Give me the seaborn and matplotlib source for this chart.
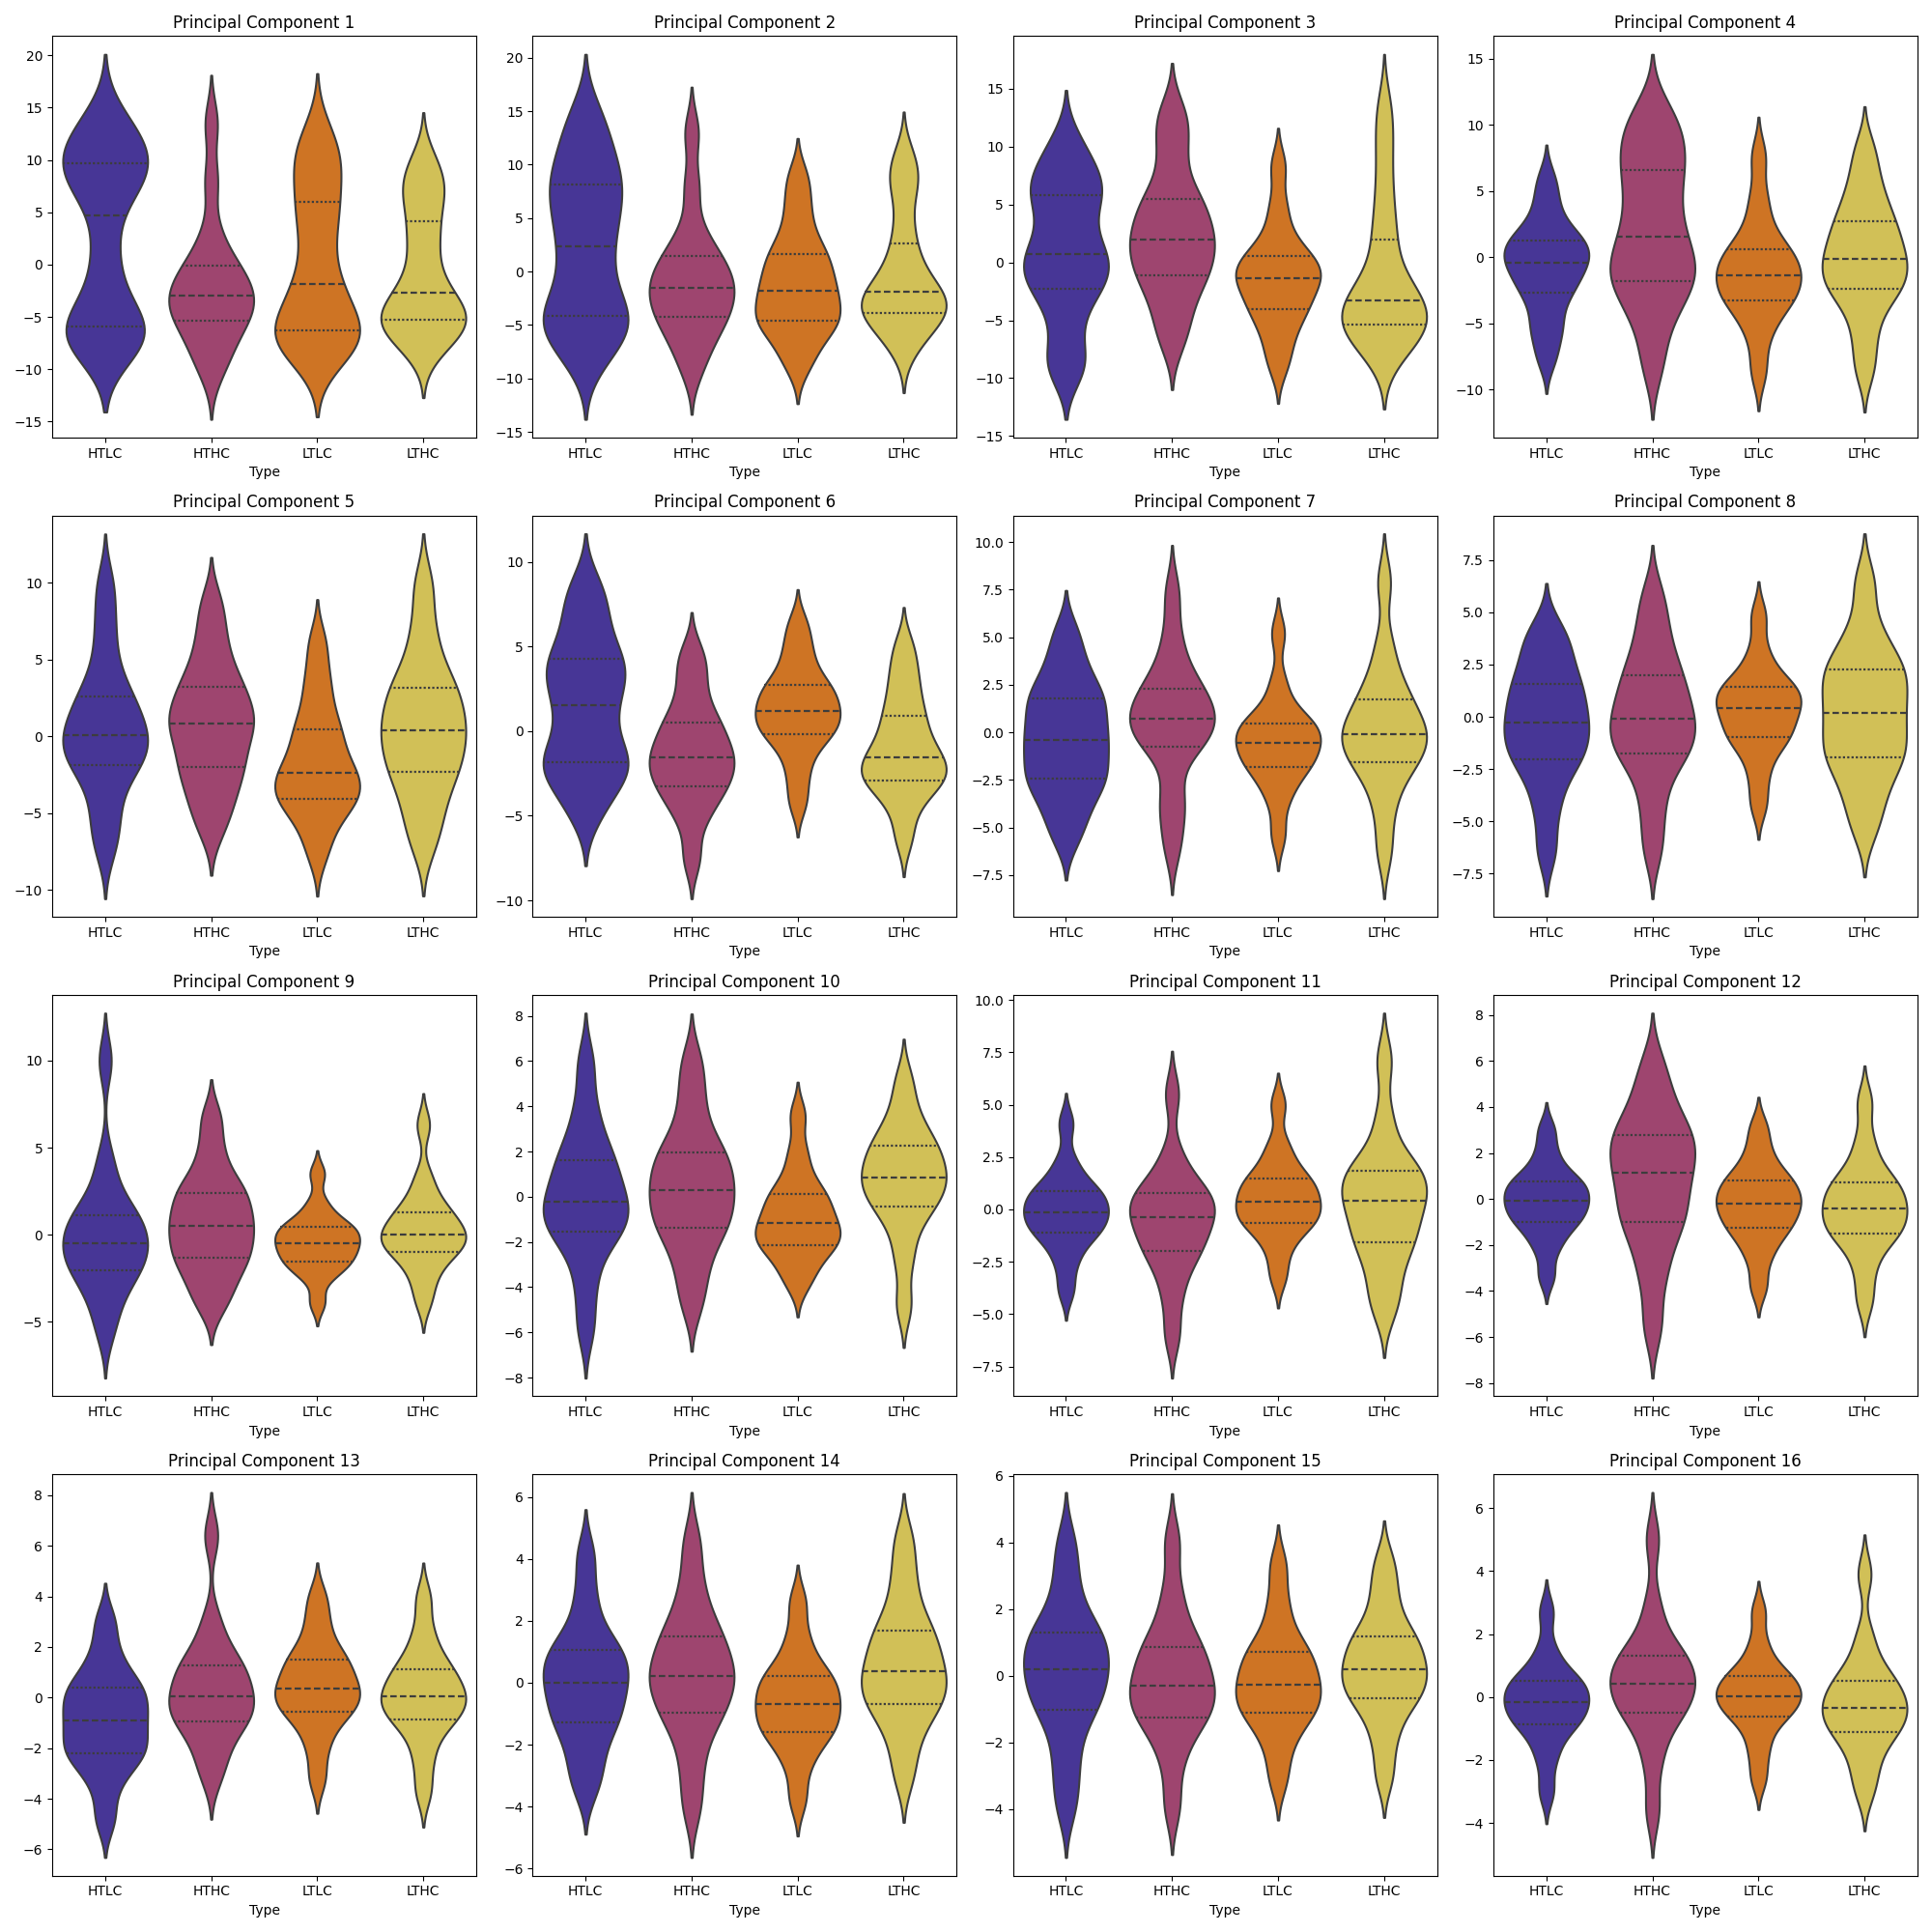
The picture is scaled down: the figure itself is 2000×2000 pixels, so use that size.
import pandas as pd
import matplotlib.pyplot as plt
import seaborn as sns

tipos = ['HTLC', 'HTHC', 'LTLC', 'LTHC']

# amostras, uma lista por componente principal (PC1..PC16)
htlc = [
    [-7.9, -7.3, -6.9, -6.5, -5.7, -4, -1, 2.5, 6.9, 7.5, 9, 9.6, 10, 11.5, 12.5, 13.9],
    [-8.3, -6.5, -5.3, -4.5, -4, -2.5, -0.5, 1.5, 3.3, 5, 6.5, 7.8, 9, 10.5, 12.5, 14.8],
    [-9.1, -8.6, -5.5, -3, -2.1, -1.2, -0.3, 0.5, 1.0, 2.5, 4.5, 5.6, 6.4, 7.3, 8.5, 10.4],
    [-7.6, -5.8, -4.8, -3.2, -2.5, -1.8, -1.1, -0.6, -0.15, 0.3, 0.8, 1.2, 1.6, 2.5, 4, 5.8],
    [-7.2, -5.5, -3.8, -2.2, -1.8, -1.2, -0.6, -0.2, 0.3, 0.9, 1.8, 2.4, 3.2, 5, 7.3, 9.8],
    [-4.9, -3.5, -2.7, -2.0, -1.8, -1.2, 0, 1.0, 2.0, 2.8, 3.5, 4.1, 4.7, 6, 7.3, 8.6],
    [-5.5, -4.3, -3.4, -2.6, -2.4, -1.8, -1.1, -0.6, -0.15, 0.4, 1.1, 1.7, 2.0, 2.8, 3.8, 5.2],
    [-6.4, -4.5, -3.2, -2.2, -1.96, -1.4, -0.9, -0.5, -0.08, 0.4, 1.0, 1.45, 1.9, 2.7, 3.5, 4.2],
    [-5.5, -4, -3, -2.2, -1.97, -1.4, -1.0, -0.7, -0.28, 0.2, 0.7, 1.05, 1.4, 2.5, 4.2, 10.0],
    [-5.8, -4, -2.6, -1.65, -1.5, -1.1, -0.7, -0.4, 0.0, 0.4, 1.0, 1.55, 1.9, 2.8, 4.0, 5.9],
    [-3.85, -2.6, -1.8, -1.2, -1.1, -0.75, -0.45, -0.25, 0.0, 0.25, 0.55, 0.85, 0.95, 1.5, 2.3, 4.1],
    [-3.35, -2.2, -1.6, -1.08, -0.97, -0.65, -0.4, -0.2, 0.02, 0.25, 0.5, 0.75, 0.83, 1.3, 2.0, 3.0],
    [-4.8, -3.5, -2.7, -2.3, -2.17, -1.8, -1.4, -1.1, -0.7, -0.4, -0.1, 0.35, 0.47, 1.0, 1.8, 3.0],
    [-3.4, -2.7, -2.0, -1.35, -1.24, -0.8, -0.45, -0.15, 0.15, 0.4, 0.7, 1.0, 1.2, 1.8, 2.8, 4.1],
    [-3.9, -2.9, -2.0, -1.1, -1.0, -0.55, -0.2, 0.05, 0.33, 0.6, 0.95, 1.27, 1.35, 2.0, 2.9, 3.95],
    [-3.0, -2.0, -1.4, -0.92, -0.84, -0.6, -0.4, -0.25, -0.07, 0.1, 0.3, 0.5, 0.55, 0.9, 1.5, 2.7],
]

hthc = [
    [-10.2, -8.5, -7.2, -6, -5.1, -4.5, -4, -3.2, -2.8, -2, -1.2, -0.3, 0.5, 3, 8, 13.5],
    [-9.1, -7, -5.8, -4.5, -4.2, -3.2, -2.4, -1.7, -1.3, -0.5, 0.3, 1.3, 1.9, 4, 8, 13],
    [-6.8, -4.8, -3, -1.5, -1.0, 0, 1, 1.7, 2.3, 3.2, 4.3, 5.3, 6.1, 8.8, 11.2, 13.0],
    [-8.0, -5, -3.5, -2.0, -1.7, -0.9, 0, 1.0, 2.1, 3.5, 5, 6.3, 7.5, 8.5, 9.8, 11.1],
    [-6.0, -4.5, -3.5, -2.3, -1.9, -1, 0, 0.6, 1.0, 1.5, 2.3, 3.1, 3.7, 5, 6.6, 8.6],
    [-7.5, -5.3, -4.3, -3.5, -3.2, -2.6, -2.1, -1.75, -1.35, -0.9, -0.3, 0.4, 0.8, 2, 3.4, 4.6],
    [-6.0, -4.3, -3.2, -0.9, -0.74, -0.2, 0.3, 0.6, 0.85, 1.2, 1.7, 2.2, 2.6, 3.5, 5, 7.3],
    [-6.3, -4.5, -3, -1.9, -1.7, -1.2, -0.7, -0.3, 0.15, 0.6, 1.2, 1.9, 2.3, 3.3, 4.4, 5.8],
    [-4.1, -3.1, -2.3, -1.5, -1.29, -0.7, -0.1, 0.3, 0.72, 1.2, 1.8, 2.3, 2.75, 3.5, 4.9, 6.7],
    [-4.7, -3.4, -2.4, -1.5, -1.33, -0.8, -0.3, 0.1, 0.5, 0.9, 1.4, 1.9, 2.2, 3.2, 4.5, 5.95],
    [-6.0, -4.2, -3.0, -2.1, -1.97, -1.4, -0.9, -0.55, -0.23, 0.05, 0.4, 0.75, 0.88, 1.5, 2.6, 5.5],
    [-5.5, -3.5, -2.3, -1.2, -0.93, -0.3, 0.3, 0.9, 1.36, 1.8, 2.3, 2.75, 2.95, 3.7, 4.6, 5.8],
    [-3.1, -2.3, -1.6, -1.0, -0.92, -0.6, -0.3, -0.1, 0.2, 0.5, 0.9, 1.25, 1.37, 2.0, 3.0, 6.4],
    [-4.0, -2.8, -1.8, -1.1, -0.94, -0.5, -0.1, 0.1, 0.34, 0.6, 1.0, 1.45, 1.65, 2.3, 3.2, 4.5],
    [-3.9, -2.6, -1.8, -1.3, -1.22, -0.9, -0.6, -0.42, -0.18, 0.1, 0.45, 0.83, 0.95, 1.6, 2.5, 4.0],
    [-3.6, -2.1, -1.2, -0.55, -0.47, -0.15, 0.1, 0.3, 0.54, 0.75, 1.0, 1.28, 1.36, 1.9, 2.9, 5.0],
]

ltlc = [
    [-9.0, -8.0, -7.3, -6.8, -6.1, -5.5, -4, -2.5, -1.3, 1.5, 4, 5.5, 7.5, 9.5, 10.5, 12.7],
    [-8.7, -7, -5.5, -4.8, -4.55, -3.8, -2.8, -2.0, -1.5, -0.5, 0.5, 1.4, 2.2, 4, 6.3, 8.8],
    [-8.9, -7, -5.5, -4.3, -3.9, -3, -2.1, -1.6, -1.2, -0.7, -0.1, 0.4, 1.0, 2.5, 4.8, 8.3],
    [-8.6, -6, -4.5, -3.5, -3.2, -2.6, -2.0, -1.55, -1.15, -0.6, 0, 0.45, 1.05, 2.5, 4.5, 7.6],
    [-7.6, -6, -4.9, -4.3, -4.0, -3.5, -3.0, -2.6, -2.1, -1.5, -0.5, 0.3, 1.0, 2.5, 4, 6.1],
    [-4.2, -2.6, -1.3, -0.4, -0.15, 0.3, 0.7, 1.0, 1.35, 1.8, 2.3, 2.6, 3.0, 4, 5, 6.3],
    [-5.4, -3.6, -2.7, -1.95, -1.78, -1.4, -1.0, -0.75, -0.4, -0.1, 0.2, 0.4, 0.65, 1.3, 2.6, 5.2],
    [-4.2, -2.8, -1.7, -1.1, -0.95, -0.5, -0.1, 0.25, 0.55, 0.8, 1.1, 1.38, 1.55, 2.1, 3.1, 4.8],
    [-3.9, -2.5, -2.0, -1.6, -1.5, -1.1, -0.8, -0.6, -0.38, -0.1, 0.2, 0.4, 0.55, 1.0, 1.8, 3.5],
    [-3.85, -3.2, -2.6, -2.2, -2.1, -1.8, -1.55, -1.3, -1.05, -0.7, -0.3, 0.05, 0.25, 1.0, 2.0, 3.6],
    [-3.2, -2.0, -1.2, -0.7, -0.63, -0.3, 0.0, 0.2, 0.52, 0.8, 1.1, 1.45, 1.57, 2.3, 3.1, 5.0],
    [-3.8, -2.6, -1.9, -1.35, -1.22, -0.85, -0.5, -0.3, -0.1, 0.15, 0.45, 0.77, 0.9, 1.4, 2.1, 3.1],
    [-3.2, -2.0, -1.2, -0.6, -0.55, -0.2, 0.05, 0.25, 0.45, 0.75, 1.1, 1.47, 1.6, 2.2, 3.0, 3.95],
    [-3.75, -2.7, -2.1, -1.65, -1.57, -1.3, -1.0, -0.82, -0.58, -0.35, -0.1, 0.2, 0.28, 0.8, 1.5, 2.6],
    [-3.1, -2.2, -1.6, -1.17, -1.09, -0.8, -0.55, -0.38, -0.14, 0.1, 0.4, 0.7, 0.82, 1.4, 2.2, 3.3],
    [-2.6, -1.8, -1.2, -0.66, -0.6, -0.35, -0.15, -0.03, 0.09, 0.25, 0.45, 0.64, 0.72, 1.1, 1.7, 2.7],
]

lthc = [
    [-8.2, -7.0, -6.3, -5.6, -5.2, -4.8, -4.2, -3.3, -2.1, -0.5, 2, 3.5, 5.9, 7, 8.3, 10.0],
    [-7.2, -5.8, -4.8, -4.0, -3.8, -3.4, -2.8, -2.1, -1.7, -1, 0.5, 2, 4.4, 7.5, 9, 10.8],
    [-7.9, -7.0, -6.3, -5.5, -5.3, -4.7, -4.2, -3.6, -3.0, -2.2, -1, 1.5, 3.5, 6.5, 10, 13.2],
    [-8.4, -6, -4, -2.7, -2.3, -1.6, -1.0, -0.4, 0.2, 0.9, 1.7, 2.5, 3.3, 4.5, 6, 8.1],
    [-7.0, -5.3, -4, -2.6, -2.2, -1.3, -0.5, 0.1, 0.7, 1.4, 2.2, 3.0, 3.6, 5, 7, 9.8],
    [-6.3, -4.6, -3.6, -3.0, -2.87, -2.5, -2.1, -1.75, -1.35, -0.8, -0.1, 0.7, 1.4, 2.5, 3.6, 5.0],
    [-6.2, -4.1, -2.7, -1.7, -1.53, -1.0, -0.5, -0.2, 0.05, 0.4, 0.9, 1.6, 2.1, 3, 4.6, 7.9],
    [-5.3, -4, -3, -2.1, -1.86, -1.3, -0.7, -0.1, 0.45, 1.0, 1.6, 2.2, 2.4, 3.2, 4.3, 6.4],
    [-3.8, -2.6, -1.8, -1.1, -0.94, -0.6, -0.3, -0.1, 0.1, 0.4, 0.8, 1.2, 1.5, 2.2, 3.3, 6.3],
    [-4.8, -2.8, -1.5, -0.55, -0.4, 0.1, 0.5, 0.75, 0.97, 1.3, 1.8, 2.2, 2.35, 3.0, 3.8, 5.1],
    [-4.8, -3.8, -2.7, -1.7, -1.53, -0.9, -0.3, 0.2, 0.6, 0.9, 1.3, 1.8, 1.96, 2.6, 4.3, 7.1],
    [-4.4, -3.1, -2.1, -1.6, -1.47, -1.1, -0.8, -0.55, -0.29, 0.0, 0.35, 0.68, 0.8, 1.5, 2.5, 4.2],
    [-3.7, -2.5, -1.6, -0.95, -0.84, -0.5, -0.25, -0.05, 0.13, 0.35, 0.7, 1.07, 1.2, 1.8, 2.6, 3.9],
    [-3.0, -2.0, -1.3, -0.75, -0.68, -0.3, 0.0, 0.2, 0.52, 0.85, 1.2, 1.62, 1.85, 2.6, 3.5, 4.6],
    [-3.0, -2.0, -1.3, -0.75, -0.66, -0.35, -0.1, 0.08, 0.3, 0.55, 0.85, 1.15, 1.27, 1.9, 2.6, 3.4],
    [-3.0, -2.3, -1.7, -1.2, -1.1, -0.8, -0.6, -0.45, -0.25, -0.05, 0.2, 0.48, 0.6, 1.1, 1.9, 3.9],
]

amostras = {'HTLC': htlc, 'HTHC': hthc, 'LTLC': ltlc, 'LTHC': lthc}

linhas = []
for tipo in tipos:
    for pc, valores in enumerate(amostras[tipo], start=1):
        for v in valores:
            linhas.append({'Type': tipo, 'PC': pc, 'valor': v})
dados = pd.DataFrame(linhas)

fig, axes = plt.subplots(4, 4, figsize=(20, 20))
for pc, ax in enumerate(axes.flat, start=1):
    sub = dados[dados.PC == pc]
    sns.violinplot(x='Type', y='valor', hue='Type', data=sub, order=tipos, hue_order=tipos,
                   palette='CMRmap', inner='quart', bw_adjust=0.6, cut=2.2,
                   linewidth=1.5, legend=False, ax=ax)
    # quartis pontilhados, mediana tracejada
    for i, linha in enumerate(ax.lines):
        linha.set_linewidth(1.6)
        if i % 3 == 1:
            linha.set_linestyle((0, (3, 1.5)))
        else:
            linha.set_linestyle((0, (1, 1)))
    ax.set_title(f'Principal Component {pc}')
    ax.set_ylabel('')
plt.tight_layout()
plt.savefig('out.png', dpi=100)
